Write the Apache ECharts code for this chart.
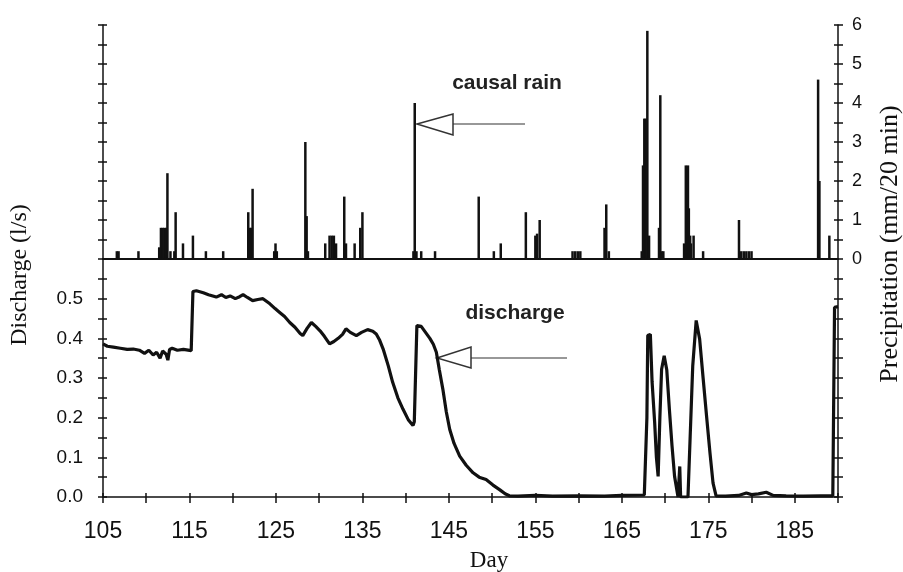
<!DOCTYPE html>
<html>
<head>
<meta charset="utf-8">
<script src="https://cdn.jsdelivr.net/npm/echarts@6/dist/echarts.min.js"></script>
<style>html,body{margin:0;padding:0;background:#fff;}#c{width:903px;height:572px;}</style>
</head>
<body>
<div id="c"></div>
<script>
// ---- data ----
const dayTicks = [105, 115, 125, 135, 145, 155, 165, 175, 185];
const precipDays = [106.6,106.8,109.1,111.5,111.7,111.9,112.1,112.3,112.45,112.8,113.25,113.4,114.25,115.4,116.9,118.9,
  121.8,122.0,122.15,122.3,124.8,124.95,125.1,128.4,128.55,128.7,130.7,131.2,131.45,131.7,131.95,132.9,133.1,134.1,134.75,135.0,
  140.9,141.05,141.25,141.8,143.4,148.45,150.2,151.0,153.9,155.0,155.2,155.5,159.3,159.6,159.9,160.2,163.0,163.2,163.5,
  167.3,167.45,167.6,167.75,167.95,168.15,169.3,169.45,169.6,169.8,172.2,172.4,172.65,172.75,172.9,173.0,173.3,174.4,
  178.55,178.8,179.1,179.4,179.7,180.0,187.7,187.85,189.0];
const precipVals = [0.2,0.2,0.2,0.3,0.8,0.8,0.8,0.8,2.2,0.2,0.2,1.2,0.4,0.6,0.2,0.2,
  1.2,0.8,0.8,1.8,0.2,0.4,0.2,3.0,1.1,0.2,0.4,0.6,0.6,0.6,0.4,1.6,0.4,0.4,0.8,1.2,
  0.2,4.0,0.2,0.2,0.2,1.6,0.2,0.4,1.2,0.6,0.65,1.0,0.2,0.2,0.2,0.2,0.8,1.4,0.2,
  0.2,2.4,3.6,3.6,5.85,0.6,0.8,4.2,0.2,0.2,0.4,2.4,2.4,1.3,0.6,0.4,0.6,0.2,
  1.0,0.2,0.2,0.2,0.2,0.2,4.6,2.0,0.6];
const dischargeDays = [105.0,105.5,106.2,107.0,107.8,108.5,109.2,109.8,110.3,110.8,111.2,111.6,111.9,112.3,112.5,112.7,113.0,113.6,114.3,115.2,
  115.4,115.8,116.6,117.2,118.1,118.7,119.2,119.7,120.3,120.8,121.2,121.7,122.3,122.9,123.5,124.3,124.9,125.4,126.0,126.6,127.2,127.8,128.1,
  128.6,129.1,129.6,130.1,130.6,131.2,131.7,132.2,132.7,133.1,133.6,134.3,134.9,135.6,136.2,136.6,137.0,137.4,138.0,138.5,139.1,139.7,140.3,
  140.85,141.0,141.3,141.8,142.3,142.8,143.2,143.55,143.9,144.3,144.7,145.1,145.6,146.25,147.0,147.8,148.5,149.3,150.1,150.9,151.5,152.0,
  153,155,157,160,163,165,167.6,167.9,168.0,168.3,168.5,168.8,169.0,169.2,169.4,169.6,169.9,170.2,170.5,170.8,171.1,171.5,171.6,171.7,171.8,
  172.65,172.9,173.2,173.6,174.0,174.4,174.8,175.2,175.55,175.9,177,178.5,179.4,180,180.8,181.7,182.5,184,186,188,189.4,189.6,190.0];
const dischargeVals = [0.386,0.38,0.378,0.375,0.372,0.373,0.37,0.362,0.37,0.358,0.365,0.35,0.368,0.36,0.345,0.372,0.375,0.37,0.372,0.369,
  0.518,0.52,0.515,0.51,0.504,0.51,0.503,0.507,0.5,0.505,0.51,0.503,0.495,0.498,0.5,0.487,0.475,0.466,0.455,0.44,0.428,0.412,0.407,
  0.425,0.44,0.43,0.419,0.405,0.386,0.392,0.4,0.41,0.424,0.415,0.407,0.415,0.422,0.418,0.411,0.395,0.373,0.33,0.289,0.25,0.221,0.195,
  0.18,0.19,0.432,0.43,0.415,0.4,0.385,0.365,0.32,0.272,0.215,0.17,0.135,0.103,0.08,0.061,0.05,0.044,0.03,0.018,0.008,0.003,
  0.002,0.004,0.002,0.003,0.002,0.004,0.005,0.2,0.407,0.41,0.29,0.187,0.1,0.052,0.2,0.322,0.356,0.32,0.221,0.13,0.052,0.0,0.0,0.077,0.0,
  0.0,0.15,0.33,0.445,0.398,0.3,0.204,0.11,0.035,0.003,0.002,0.004,0.01,0.006,0.008,0.012,0.004,0.003,0.002,0.003,0.003,0.478,0.48];

const sans = 'Liberation Sans, Arial, sans-serif';
const serif = 'Liberation Serif, Times New Roman, serif';
const black = '#111';

const chart = echarts.init(document.getElementById('c'), null, {renderer: 'canvas'});
const axLine = {show: true, lineStyle: {color: black, width: 1.5}};
const tick = {show: true, length: 5, lineStyle: {color: black, width: 1.5}};
const tickIn = {show: true, inside: true, length: 4, lineStyle: {color: black, width: 1.5}};
const noLabel = {show: false};
const noSplit = {show: false};

chart.setOption({
  animation: false,
  backgroundColor: '#fff',
  grid: [
    {left: 103, width: 735, top: 25, height: 234},
    {left: 103, width: 735, top: 259, height: 238}
  ],
  xAxis: [
    {gridIndex: 0, type: 'value', min: 105, max: 190, interval: 5,
     axisLine: {show: true, onZero: false, lineStyle: {color: black, width: 2}},
     axisTick: {show: false}, axisLabel: noLabel, splitLine: noSplit},
    {gridIndex: 1, type: 'value', min: 105, max: 190, interval: 5,
     axisLine: {show: true, onZero: false, lineStyle: {color: black, width: 1.5}},
     axisTick: {show: true, length: 6, lineStyle: {color: black, width: 1.5}},
     axisLabel: {show: true, margin: 23, color: black, fontFamily: sans, fontSize: 23,
       formatter: v => (dayTicks.indexOf(v) >= 0 ? String(v) : '')},
     splitLine: noSplit},
    {gridIndex: 1, type: 'value', position: 'bottom', min: 105, max: 190, interval: 5,
     axisLine: {show: false, onZero: false}, axisTick: tickIn, axisLabel: noLabel, splitLine: noSplit}
  ],
  yAxis: [
    {gridIndex: 0, type: 'value', position: 'left', min: 0, max: 12, interval: 1,
     axisLine: axLine, axisTick: tick, axisLabel: noLabel, splitLine: noSplit},
    {gridIndex: 0, type: 'value', position: 'right', min: 0, max: 6, interval: 0.5,
     axisLine: axLine, axisTick: tick,
     axisLabel: {show: true, margin: 14, color: black, fontFamily: sans, fontSize: 18,
       formatter: v => (Number.isInteger(v) ? String(v) : '')},
     splitLine: noSplit},
    {gridIndex: 1, type: 'value', position: 'left', min: 0, max: 0.6, interval: 0.05,
     axisLine: axLine, axisTick: tick,
     axisLabel: {show: true, margin: 20, color: black, fontFamily: sans, fontSize: 19,
       formatter: v => { const k = Math.round(v * 100); return (k % 10 === 0 && k <= 50) ? (k / 100).toFixed(1) : ''; }},
     splitLine: noSplit},
    {gridIndex: 1, type: 'value', position: 'right', min: 0, max: 12, interval: 1,
     axisLine: axLine, axisTick: tick, axisLabel: noLabel, splitLine: noSplit},
    {gridIndex: 0, type: 'value', position: 'left', offset: 0, min: 0, max: 12, interval: 1,
     axisLine: {show: false}, axisTick: tickIn, axisLabel: noLabel, splitLine: noSplit},
    {gridIndex: 0, type: 'value', position: 'right', offset: 0, min: 0, max: 12, interval: 1,
     axisLine: {show: false}, axisTick: tickIn, axisLabel: noLabel, splitLine: noSplit},
    {gridIndex: 1, type: 'value', position: 'left', offset: 0, min: 0, max: 12, interval: 1,
     axisLine: {show: false}, axisTick: tickIn, axisLabel: noLabel, splitLine: noSplit},
    {gridIndex: 1, type: 'value', position: 'right', offset: 0, min: 0, max: 12, interval: 1,
     axisLine: {show: false}, axisTick: tickIn, axisLabel: noLabel, splitLine: noSplit}
  ],
  series: [
    {type: 'bar', name: 'precipitation', xAxisIndex: 0, yAxisIndex: 1, barWidth: 2.5,
     itemStyle: {color: black}, data: precipDays.map((d, i) => [d, precipVals[i]])},
    {type: 'line', name: 'discharge', xAxisIndex: 1, yAxisIndex: 2, symbol: 'none', showSymbol: false,
     lineStyle: {color: black, width: 3.2}, data: dischargeDays.map((d, i) => [d, dischargeVals[i]])}
  ],
  graphic: [
    {type: 'text', style: {text: 'causal rain', x: 507, y: 83, align: 'center', verticalAlign: 'middle', font: 'bold 21px ' + sans, fill: '#222'}},
    {type: 'text', style: {text: 'discharge', x: 515, y: 313, align: 'center', verticalAlign: 'middle', font: 'bold 21px ' + sans, fill: '#222'}},
    {type: 'polygon', shape: {points: [[417, 124], [453, 114], [453, 135]]}, style: {fill: '#fff', stroke: '#333', lineWidth: 1.5}},
    {type: 'line', shape: {x1: 453, y1: 124, x2: 525, y2: 124}, style: {stroke: '#333', lineWidth: 1.2}},
    {type: 'polygon', shape: {points: [[437, 358], [471, 347], [471, 368]]}, style: {fill: '#fff', stroke: '#333', lineWidth: 1.5}},
    {type: 'line', shape: {x1: 471, y1: 358, x2: 567, y2: 358}, style: {stroke: '#333', lineWidth: 1.2}},
    {type: 'text', x: 20, y: 275, rotation: Math.PI / 2, style: {text: 'Discharge (l/s)', x: 0, y: 0, align: 'center', verticalAlign: 'middle', font: '24px ' + serif, fill: black}},
    {type: 'text', x: 890, y: 244, rotation: Math.PI / 2, style: {text: 'Precipitation (mm/20 min)', x: 0, y: 0, align: 'center', verticalAlign: 'middle', font: '26px ' + serif, fill: black}},
    {type: 'text', style: {text: 'Day', x: 489, y: 561, align: 'center', verticalAlign: 'middle', font: '23px ' + serif, fill: black}}
  ]
});
</script>
</body>
</html>
